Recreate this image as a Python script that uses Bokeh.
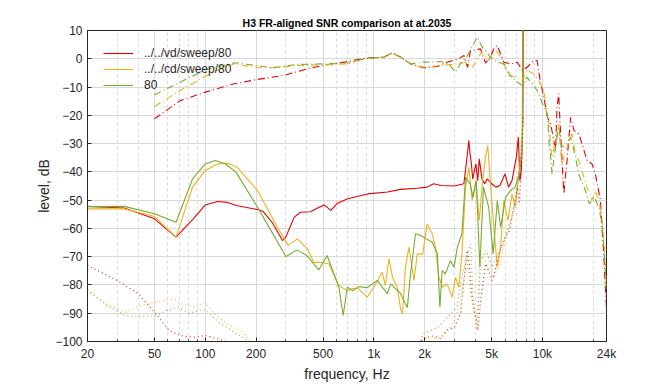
from bokeh.plotting import figure
from bokeh.models import Range1d, FixedTicker, CustomJSTickFormatter
from bokeh.embed import file_html
from bokeh.resources import INLINE

TITLE = "H3 FR-aligned SNR comparison at at.2035"
NAMES = ["../../vd/sweep/80", "../../cd/sweep/80", "80"]
COLORS = ["#e60000", "#edb120", "#77ac30"]

X_TICKS = [20, 50, 100, 200, 500, 1000, 2000, 5000, 10000, 24000]
X_MINOR = [30, 40, 60, 70, 80, 90, 300, 400, 600, 700, 800, 900,
           3000, 4000, 6000, 7000, 8000, 9000, 20000]
Y_TICKS = [-100, -90, -80, -70, -60, -50, -40, -30, -20, -10, 0, 10]

# ---- SNR (solid) ----
vd_snr_f = [20, 33, 50, 67, 85, 100, 118, 135, 155, 204, 220, 250, 287, 300, 337, 367, 421, 470, 507, 556,
            609, 700, 917, 1205, 1440, 1800, 2070, 2260, 2500, 3000, 3420, 3550, 3660, 3720, 3790, 3860,
            4030, 4130, 4220, 4380, 4550, 4700, 5000, 5300, 5600, 6000, 6300, 6600, 7000, 7200, 7350,
            7500, 7650, 7800]
vd_snr_db = [-52.2, -52.8, -56.6, -63.1, -56.5, -51.7, -50.5, -50.8, -52.0, -53.3, -54.0, -58.0, -64.3,
             -63.1, -56.0, -54.3, -54.1, -52.6, -51.7, -53.6, -51.1, -49.5, -47.8, -47.1, -46.2, -45.8,
             -45.4, -44.2, -44.8, -45.0, -44.2, -36.0, -28.9, -33.6, -37.2, -42.5, -37.2, -43.1, -35.4,
             -42.5, -44.2, -42.5, -44.2, -45.4, -44.8, -40.7, -45.4, -43.1, -34.8, -27.7, -43.1, -39.5,
             -21.8, 60.0]

cd_snr_f = [20, 33, 50, 67, 84, 100, 118, 135, 155, 204, 268, 310, 352, 403, 440, 482, 540, 570, 620, 695,
            740, 800, 912, 1000, 1120, 1170, 1228, 1290, 1375, 1440, 1480, 1540, 1615, 1730, 1810, 1950,
            2070, 2220, 2320, 2430, 2560, 2720, 2915, 3050, 3190, 3330, 3500, 3660, 3830, 4030, 4220,
            4420, 4595, 4740, 4900, 5150, 5400, 5650, 5900, 6250, 6600, 6900, 7250, 7590, 7750]
cd_snr_db = [-53.1, -53.1, -55.8, -63.1, -45.4, -39.5, -37.2, -36.9, -38.4, -46.6, -59.6, -66.0, -63.7,
             -67.2, -72.0, -72.0, -72.5, -75.5, -80.2, -82.0, -81.4, -81.0, -84.3, -80.8, -75.5, -80.2,
             -70.8, -77.3, -80.8, -88.4, -90.2, -73.7, -66.6, -78.4, -69.0, -69.0, -58.4, -61.9, -66.6,
             -77.3, -80.8, -79.6, -84.3, -77.3, -80.8, -69.0, -45.4, -38.4, -50.1, -43.1, -57.2, -43.1,
             -34.8, -30.7, -43.1, -59.6, -73.7, -66.6, -50.1, -57.2, -47.8, -52.5, -40.7, -31.3, 60.0]

s80_snr_f = [20, 33, 50, 67, 84, 100, 115, 132, 152, 204, 245, 287, 300, 350, 400, 471, 528, 570, 620, 658,
             695, 750, 820, 910, 1050, 1200, 1260, 1440, 1580, 1650, 1766, 1900, 2050, 2220, 2380, 2465,
             2540, 2650, 2850, 2990, 3130, 3330, 3500, 3720, 3880, 4050, 4255, 4470, 4800, 5100, 5400,
             5650, 6050, 6460, 6900, 7350, 7600, 7700]
s80_snr_db = [-52.3, -52.2, -54.8, -57.8, -42.5, -37.2, -36.0, -37.2, -40.1, -52.5, -60.7, -67.8, -70.0,
              -67.6, -69.6, -74.7, -69.6, -74.9, -80.8, -90.8, -80.8, -82.0, -80.6, -81.0, -78.4, -83.1,
              -79.6, -83.1, -88.0, -76.1, -61.9, -62.5, -63.7, -64.9, -69.0, -87.9, -74.9, -76.1, -71.4,
              -73.7, -66.6, -61.9, -41.9, -44.2, -49.0, -43.1, -73.7, -45.4, -52.5, -69.0, -50.1, -59.6,
              -49.0, -46.6, -45.4, -39.5, -31.3, 60.0]

# ---- signal (dash-dot) ----
vd_sig_f = [50, 71, 100, 147, 200, 292, 400, 500, 664, 880, 1150, 1280, 1440, 1650, 1980, 2380, 2720, 3190,
            3420, 3600, 3740, 4290, 4600, 4920, 5200, 5390, 5700, 5900, 6450, 7100, 7600, 8100, 8900,
            9300, 9700, 10200, 10700, 11200, 11960, 12200, 12500, 12700, 13400, 14000, 14700, 15400,
            16400, 17200, 18400, 19700, 20600, 22100, 22600, 23100, 23600, 24000]
vd_sig_db = [-21.2, -14.8, -11.8, -8.9, -7.4, -5.9, -3.6, -2.4, -1.2, 0.2, 0.6, 2.1, 0.6, -1.8, -3.2, -2.7,
             -1.2, 0.0, 1.2, -3.0, 2.9, 3.5, -1.5, 0.6, 4.1, 4.7, 1.2, -1.2, -1.8, -1.2, -4.1, -3.0, -0.6,
             -0.6, -7.7, -13.6, -20.7, -23.0, -32.4, -17.1, -12.4, -21.8, -47.8, -36.0, -20.7, -25.4,
             -26.5, -30.1, -36.0, -37.2, -40.7, -50.1, -60.7, -69.0, -80.8, -88.0]

cd_sig_f = [50, 71, 100, 125, 150, 200, 260, 360, 500, 700, 880, 1150, 1280, 1440, 1650, 1980, 2500, 3150,
            3550, 3850, 4350, 4800, 5300, 5750, 6250, 7000, 7600, 8100, 8900, 9500, 10200, 10500, 11000,
            11200, 11400, 11960, 12500, 13000, 14000, 15000, 15700, 16400, 18400, 19700, 20600, 21600,
            22600, 23300, 24000]
cd_sig_db = [-16.9, -11.2, -6.2, -3.2, -1.8, -3.2, -3.2, -2.4, -2.1, -1.8, 0.0, 0.6, 2.1, 0.6, -1.8, -3.0,
             -2.4, -1.8, -1.2, -3.0, 2.3, -0.6, 2.9, 0.0, -5.9, -6.5, -7.7, -4.1, -5.3, -7.7, -11.2,
             -17.1, -24.2, -31.3, -34.8, -28.9, -23.0, -37.2, -31.3, -26.5, -33.6, -36.0, -45.4, -50.1,
             -46.6, -50.1, -57.2, -66.6, -80.8]

s80_sig_f = [50, 71, 100, 150, 200, 250, 350, 500, 700, 880, 1150, 1280, 1440, 1650, 1980, 2500, 2800,
             3050, 3300, 3550, 4100, 4400, 4920, 5390, 5900, 6450, 6900, 7600, 8100, 8900, 9300, 10200,
             10700, 11000, 11200, 11400, 11960, 12500, 13000, 14000, 14700, 15700, 16400, 18000, 19000,
             20300, 21600, 22600, 23300, 24000]
s80_sig_db = [-12.7, -8.3, -3.9, -1.4, -2.4, -3.2, -2.0, -1.8, -1.4, 0.0, 0.6, 2.1, 0.6, -1.8, -1.2, -1.0,
              -2.0, -4.7, -1.2, 0.6, 7.6, 4.1, 0.6, -1.2, -1.8, -5.9, -7.7, -9.5, -6.5, -9.5, -11.2,
              -17.1, -19.5, -31.3, -34.8, -40.7, -31.3, -24.2, -31.3, -30.1, -27.7, -34.8, -40.7, -46.6,
              -51.3, -49.0, -52.5, -58.4, -69.0, -83.1]

# ---- noise (dotted) ----
vd_noise_f = [20, 30, 40, 51, 61, 71, 85, 100, 124, 150, 200, 400, 1000, 1800, 1950, 2200, 2500, 2700, 3000,
              3270, 3400, 3580, 3680, 3800, 4140, 4300, 4600, 5040, 5300, 5500, 6000, 6400, 6800, 7100,
              7300, 7550, 7700]
vd_noise_db = [-73.1, -78.4, -83.1, -90.2, -96.1, -97.9, -98.5, -97.9, -99.4, -101.0, -104.0, -108.0,
               -108.0, -103.0, -99.1, -98.0, -99.0, -96.0, -95.0, -90.2, -80.0, -67.8, -72.5, -83.1,
               -96.1, -85.5, -72.5, -78.4, -73.7, -69.0, -63.1, -60.7, -51.3, -45.4, -51.3, -33.5, -20.0]

cd_noise_f = [20, 26, 33.5, 41, 51, 65, 72, 88, 100, 116, 140, 168, 183, 200, 220, 250, 400, 1000, 1800,
              1950, 2300, 2700, 3000, 3270, 3580, 3750, 4100, 4300, 4650, 5150, 5650, 6200, 6800, 7100,
              7550, 7700]
cd_noise_db = [-81.7, -86.7, -89.6, -87.3, -86.1, -84.9, -86.7, -87.9, -86.3, -90.8, -94.4, -96.7, -99.7,
               -101.0, -99.7, -103.0, -108.0, -108.0, -103.0, -98.5, -99.0, -97.0, -92.6, -85.5, -70.2,
               -83.1, -96.1, -69.0, -72.5, -77.3, -71.4, -60.7, -54.8, -45.4, -31.3, -20.0]

s80_noise_f = [20, 26, 33.5, 41, 51, 59, 69, 80, 92, 100, 120, 154, 180, 220, 400, 1000, 1800, 1950, 2400,
               3100, 3300, 3580, 3750, 3900, 4100, 4300, 4650, 5000, 5500, 5900, 6450, 6900, 7300, 7550,
               7700]
s80_noise_db = [-81.7, -87.3, -90.8, -91.2, -90.8, -89.0, -87.9, -90.0, -89.0, -88.8, -93.2, -97.3, -99.7,
                -102.0, -108.0, -108.0, -103.0, -97.3, -95.0, -87.9, -78.4, -69.0, -65.5, -87.9, -92.6,
                -71.4, -67.8, -73.7, -69.0, -65.5, -57.2, -51.3, -39.5, -27.7, -20.0]

FONT = "Liberation Sans"
TXT = "#262626"

p = figure(width=656, height=384, x_axis_type="log",
           x_range=Range1d(20, 24000), y_range=Range1d(-100, 10),
           min_border_left=87, min_border_right=50, min_border_top=30, min_border_bottom=43,
           output_backend="svg", toolbar_location=None, title=TITLE,
           background_fill_color="white", border_fill_color="white")

p.title.text_font = FONT
p.title.text_font_size = "10.5px"
p.title.text_font_style = "bold"
p.title.align = "center"
p.title.text_color = "#000000"
p.title.standoff = 4

xt = FixedTicker(ticks=X_TICKS, minor_ticks=X_MINOR)
yt = FixedTicker(ticks=Y_TICKS)
fmt = CustomJSTickFormatter(code="return tick >= 1000 ? (tick/1000) + 'k' : String(tick);")

p.xaxis.ticker = xt
p.xaxis.formatter = fmt
p.yaxis.ticker = yt

for ax in p.axis:
    ax.major_tick_in = 4
    ax.major_tick_out = 0
    ax.minor_tick_in = 2
    ax.minor_tick_out = 0
    ax.axis_line_color = TXT
    ax.major_tick_line_color = TXT
    ax.minor_tick_line_color = TXT
    ax.major_label_text_font = FONT
    ax.major_label_text_font_size = "12px"
    ax.major_label_text_color = TXT
    ax.axis_label_text_font = FONT
    ax.axis_label_text_font_size = "14px"
    ax.axis_label_text_font_style = "normal"
    ax.axis_label_text_color = TXT
p.yaxis.minor_tick_line_color = None
p.xaxis.axis_label = "frequency, Hz"
p.yaxis.axis_label = "level, dB"
p.xaxis.major_label_standoff = 5
p.xaxis.axis_label_standoff = 2
p.yaxis.major_label_standoff = 5
p.yaxis.axis_label_standoff = 0

p.xgrid.grid_line_color = "#d9d9d9"
p.xgrid.minor_grid_line_color = "#d9d9d9"
p.xgrid.minor_grid_line_dash = "3 3"
p.ygrid.grid_line_color = "#d9d9d9"
p.outline_line_color = TXT

snr = [(vd_snr_f, vd_snr_db), (cd_snr_f, cd_snr_db), (s80_snr_f, s80_snr_db)]
sig = [(vd_sig_f, vd_sig_db), (cd_sig_f, cd_sig_db), (s80_sig_f, s80_sig_db)]
noise = [(vd_noise_f, vd_noise_db), (cd_noise_f, cd_noise_db), (s80_noise_f, s80_noise_db)]

for (f, d), c, n in zip(snr, COLORS, NAMES):
    p.line(f, d, line_color=c, line_width=1.1, legend_label=n)
for (f, d), c in zip(sig, COLORS):
    p.line(f, d, line_color=c, line_width=1.1, line_dash="7 3 1 3")
for (f, d), c in zip(noise, COLORS):
    p.line(f, d, line_color=c, line_width=1.2, line_dash="1 3", line_alpha=0.85)

lg = p.legend[0]
lg.location = (16, 248)
lg.padding = 0
lg.margin = 0
lg.spacing = 0
lg.border_line_color = None
lg.background_fill_alpha = 0
lg.label_height = 16
lg.glyph_height = 16
lg.glyph_width = 30
lg.label_standoff = 11
lg.label_text_font = FONT
lg.label_text_font_size = "12px"
lg.label_text_color = TXT

open("out.html", "w").write(file_html(p, INLINE))
